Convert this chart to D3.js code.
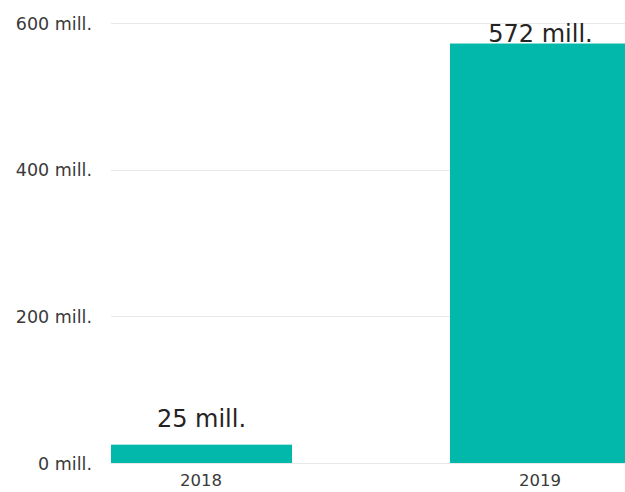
<!DOCTYPE html>
<html>
<head>
<meta charset="utf-8">
<script src="https://cdn.jsdelivr.net/npm/d3@7"></script>
<style>
  html, body { margin: 0; padding: 0; background: #fff; }
  svg { display: block; }
</style>
</head>
<body>
<svg id="chart" width="625" height="492"></svg>
<script>
const categories = ["2018", "2019"];
const values = [25, 572];
const yTicks = [0, 200, 400, 600];
const tickLabel = d => d + " mill.";

const svg = d3.select("#chart");
const W = 625, H = 492;

const x = d3.scaleBand()
  .domain(categories)
  .range([111, 631])
  .paddingInner(0.466)
  .paddingOuter(0);

const y = d3.scaleLinear()
  .domain([0, 600])
  .range([463, 23]);

// gridlines
svg.append("g").selectAll("line")
  .data(yTicks)
  .join("line")
  .attr("x1", 111).attr("x2", W)
  .attr("y1", d => Math.round(y(d)) + 0.5)
  .attr("y2", d => Math.round(y(d)) + 0.5)
  .attr("stroke", "#e8e8e8")
  .attr("stroke-width", 1);

// y labels
svg.append("g").selectAll("text")
  .data(yTicks)
  .join("text")
  .attr("x", 92)
  .attr("y", d => y(d) + 6.5)
  .attr("text-anchor", "end")
  .attr("font-family", "DejaVu Sans")
  .attr("font-size", "17.5px")
  .attr("fill", "#3a3a3a")
  .text(tickLabel);

// bars
svg.append("g").selectAll("rect")
  .data(values)
  .join("rect")
  .attr("x", (d, i) => x(categories[i]))
  .attr("width", x.bandwidth())
  .attr("y", d => y(d))
  .attr("height", d => y(0) - y(d))
  .attr("fill", "#01B8AA");

// x labels
svg.append("g").selectAll("text")
  .data(categories)
  .join("text")
  .attr("x", d => x(d) + x.bandwidth() / 2 - 0.5)
  .attr("y", 486)
  .attr("text-anchor", "middle")
  .attr("font-family", "DejaVu Sans")
  .attr("font-size", "16.5px")
  .attr("fill", "#3a3a3a")
  .text(d => d);

// data labels
svg.append("g").selectAll("text")
  .data(values)
  .join("text")
  .attr("x", (d, i) => x(categories[i]) + x.bandwidth() / 2)
  .attr("y", d => Math.max(y(d) - 17.5, 42))
  .attr("text-anchor", "middle")
  .attr("font-family", "DejaVu Sans")
  .attr("font-size", "24px")
  .attr("fill", "#252423")
  .text(d => d + " mill.");
</script>
</body>
</html>
